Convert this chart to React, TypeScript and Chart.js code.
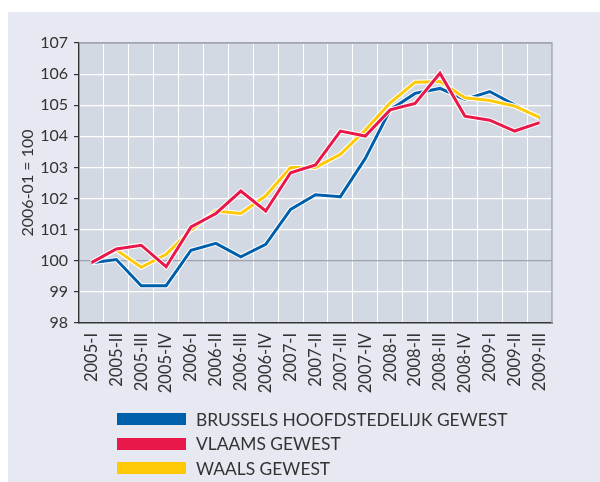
import React, { useEffect, useRef } from "react";
import { Chart, registerables } from "chart.js";

Chart.register(...registerables);

const categories = [
  "2005-I", "2005-II", "2005-III", "2005-IV",
  "2006-I", "2006-II", "2006-III", "2006-IV",
  "2007-I", "2007-II", "2007-III", "2007-IV",
  "2008-I", "2008-II", "2008-III", "2008-IV",
  "2009-I", "2009-II", "2009-III",
];

const brussels = [99.94, 100.04, 99.2, 99.2, 100.34, 100.56, 100.13, 100.53, 101.65, 102.12, 102.06, 103.29, 104.85, 105.38, 105.54, 105.19, 105.44, 105.01, 104.58];
const vlaams = [99.94, 100.38, 100.5, 99.81, 101.09, 101.52, 102.24, 101.6, 102.83, 103.08, 104.17, 104.01, 104.85, 105.06, 106.03, 104.65, 104.52, 104.17, 104.44];
const waals = [99.94, 100.35, 99.79, 100.21, 100.99, 101.6, 101.52, 102.09, 103.0, 103.0, 103.42, 104.2, 105.08, 105.74, 105.76, 105.24, 105.15, 104.97, 104.61];

const seriesNames = ["BRUSSELS HOOFDSTEDELIJK GEWEST", "VLAAMS GEWEST", "WAALS GEWEST"];
const yTitle = "2006-01 = 100";
const yMin = 98;
const yMax = 107;

const BLUE = "#005fab";
const RED = "#e8194a";
const YELLOW = "#ffc907";
const PANEL = "#e6e9f1";
const PLOT = "#d3d9e2";
const TEXT = "#333333";
const FONT = "Lato, 'Open Sans', sans-serif";

const plotBg = {
  id: "plotBg",
  beforeDraw(chart: any) {
    const { ctx, chartArea: a } = chart;
    ctx.save();
    ctx.fillStyle = PLOT;
    ctx.fillRect(a.left, a.top, a.right - a.left, a.bottom - a.top);
    ctx.restore();
  },
  beforeDatasetsDraw(chart: any) {
    const { ctx, chartArea: a } = chart;
    ctx.save();
    ctx.strokeStyle = "#a3a7ae";
    ctx.lineWidth = 1.5;
    ctx.beginPath();
    ctx.moveTo(a.left, a.top);
    ctx.lineTo(a.right, a.top);
    ctx.lineTo(a.right, a.bottom);
    ctx.stroke();
    ctx.restore();
  },
};

export default function App() {
  const ref = useRef<HTMLCanvasElement | null>(null);

  useEffect(() => {
    if (!ref.current) return;
    const line = (data: number[], color: string) => ({
      data,
      borderColor: color,
      backgroundColor: color,
      borderWidth: 3,
      pointRadius: 0,
      tension: 0,
      borderJoinStyle: "miter" as const,
    });
    const halo = (data: number[]) => ({
      data,
      borderColor: "#ffffff",
      borderWidth: 5,
      pointRadius: 0,
      tension: 0,
      borderJoinStyle: "miter" as const,
    });
    const chart = new Chart(ref.current, {
      type: "line",
      data: {
        labels: categories,
        datasets: [
          { label: seriesNames[1], ...line(vlaams, RED) },
          { label: "h1", ...halo(vlaams) },
          { label: seriesNames[2], ...line(waals, YELLOW) },
          { label: "h2", ...halo(waals) },
          { label: seriesNames[0], ...line(brussels, BLUE) },
          { label: "h0", ...halo(brussels) },
        ],
      },
      options: {
        animation: false,
        responsive: false,
        maintainAspectRatio: false,
        layout: { padding: { top: 31, right: 48, bottom: 0, left: 0 } },
        plugins: { legend: { display: false }, tooltip: { enabled: false } },
        scales: {
          x: {
            offset: true,
            grid: { offset: true, color: "#ffffff", lineWidth: 1, drawTicks: false },
            border: { color: TEXT, width: 1.5 },
            ticks: {
              minRotation: 90,
              maxRotation: 90,
              autoSkip: false,
              padding: 10,
              color: TEXT,
              font: { family: FONT, size: 16.5 },
            },
            afterFit: (s: any) => { s.height = 159; },
          },
          y: {
            min: yMin,
            max: yMax,
            grid: {
              color: (c: any) => (c.tick && c.tick.value === 100 ? "#9ca3ad" : c.tick && c.tick.value === yMax ? "#a3a7ae" : "#ffffff"),
              lineWidth: 1.2,
              tickColor: TEXT,
              tickLength: 5,
            },
            border: { color: TEXT, width: 1.5 },
            ticks: {
              stepSize: 1,
              padding: 6,
              color: TEXT,
              font: { family: FONT, size: 16 },
            },
            title: {
              display: true,
              text: yTitle,
              color: TEXT,
              font: { family: FONT, size: 16 },
              padding: { top: 10, bottom: 0 },
            },
            afterFit: (s: any) => { s.width = 71; },
          },
        },
      },
      plugins: [plotBg],
    });
    return () => chart.destroy();
  }, []);

  const legendItems = [
    { name: seriesNames[0], color: BLUE },
    { name: seriesNames[1], color: RED },
    { name: seriesNames[2], color: YELLOW },
  ];

  return (
    <div style={{ position: "absolute", left: 8, top: 12, width: 592, height: 470, background: PANEL }}>
      <canvas ref={ref} width={592} height={470} style={{ display: "block", width: 592, height: 470 }} />
      {legendItems.map((it, i) => (
        <div
          key={it.name}
          style={{
            position: "absolute",
            left: 109,
            top: 395 + i * 24.5,
            height: 24,
            display: "flex",
            alignItems: "center",
            fontFamily: FONT,
            fontSize: 17.4,
            color: TEXT,
            whiteSpace: "nowrap",
          }}
        >
          <span style={{ display: "inline-block", width: 69, height: 12, background: it.color, marginRight: 10 }} />
          <span>{it.name}</span>
        </div>
      ))}
    </div>
  );
}
